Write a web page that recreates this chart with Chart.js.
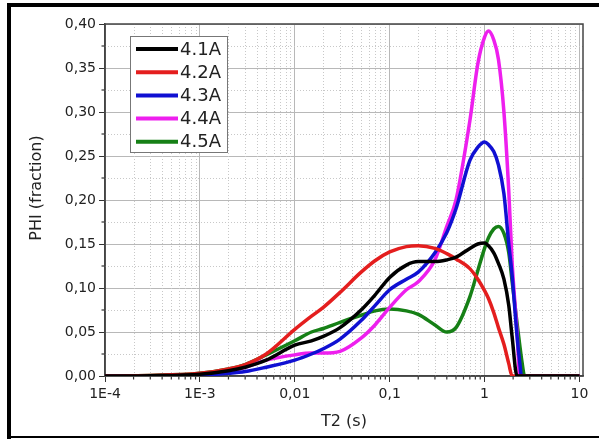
<!DOCTYPE html>
<html>
<head>
<meta charset="utf-8">
<script src="https://cdn.jsdelivr.net/npm/chart.js@4"></script>
<style>
  body { margin: 0; background: #fff; }
</style>
</head>
<body>
<canvas id="t2Chart" width="599" height="439"></canvas>
<script>
// T2 relaxation times (s), shared by every sample
const t2 = [0.0001, 0.0003, 0.001, 0.002, 0.003, 0.005, 0.01, 0.015, 0.02, 0.03, 0.05, 0.07,
  0.1, 0.15, 0.2, 0.3, 0.4, 0.5, 0.7, 0.85, 1, 1.1, 1.25, 1.4, 1.6, 1.8, 1.95, 2.2, 2.35, 2.45, 2.65, 10];

const s41A = [0, 0.0003, 0.002, 0.006, 0.01, 0.018, 0.035, 0.04, 0.045, 0.055, 0.075, 0.092,
  0.112, 0.126, 0.13, 0.13, 0.132, 0.135, 0.145, 0.15, 0.151, 0.148, 0.14, 0.128, 0.11, 0.08, 0.045, 0, 0, 0, 0, 0];
const s42A = [0, 0.0005, 0.003, 0.008, 0.013, 0.025, 0.053, 0.068, 0.078, 0.095, 0.118, 0.131,
  0.141, 0.147, 0.148, 0.145, 0.139, 0.133, 0.122, 0.11, 0.097, 0.088, 0.072, 0.055, 0.036, 0.014, 0, 0, 0, 0, 0, 0];
const s43A = [0, 0.0002, 0.001, 0.003, 0.005, 0.01, 0.018, 0.025, 0.031, 0.042, 0.063, 0.08,
  0.098, 0.11, 0.118, 0.14, 0.163, 0.19, 0.245, 0.26, 0.266, 0.263, 0.255, 0.24, 0.207, 0.15, 0.115, 0.045, 0.015, 0, 0, 0];
const s44A = [0, 0.0002, 0.001, 0.005, 0.01, 0.018, 0.024, 0.026, 0.026, 0.028, 0.043, 0.058,
  0.078, 0.098, 0.107, 0.132, 0.17, 0.2, 0.29, 0.355, 0.385, 0.392, 0.382, 0.36, 0.3, 0.21, 0.13, 0.05, 0, 0, 0, 0];
const s45A = [0, 0.0005, 0.003, 0.008, 0.013, 0.024, 0.04, 0.05, 0.054, 0.061, 0.069, 0.074,
  0.076, 0.074, 0.07, 0.058, 0.05, 0.055, 0.09, 0.12, 0.145, 0.157, 0.167, 0.17, 0.162, 0.14, 0.108, 0.06, 0.035, 0.02, 0, 0];

const sampleNames = ['4.1A', '4.2A', '4.3A', '4.4A', '4.5A'];
const sampleValues = [s41A, s42A, s43A, s44A, s45A];
const sampleColors = ['#000000', '#e41e1e', '#1010d2', '#ee1fee', '#168016'];

const xTickValues = [0.0001, 0.001, 0.01, 0.1, 1, 10];
const xTickLabels = ['1E-4', '1E-3', '0,01', '0,1', '1', '10'];
const yTitle = 'PHI (fraction)';

const FONT = 'DejaVu Sans';

const datasets = sampleNames.map((name, i) => ({
  label: name,
  data: t2.map((t, j) => ({ x: t, y: sampleValues[i][j] })),
  borderColor: sampleColors[i],
  backgroundColor: sampleColors[i],
  borderWidth: 3.5,
  pointRadius: 0,
  cubicInterpolationMode: 'monotone',
  fill: false
}));

function line(ctx, x1, y1, x2, y2) {
  ctx.beginPath();
  ctx.moveTo(x1, y1);
  ctx.lineTo(x2, y2);
  ctx.stroke();
}

const decorations = {
  id: 'decorations',
  beforeDraw(chart) {
    const ctx = chart.ctx;
    ctx.save();
    ctx.fillStyle = '#fff';
    ctx.fillRect(0, 0, chart.width, chart.height);
    // figure frame
    ctx.fillStyle = '#000';
    ctx.fillRect(7, 3, chart.width - 7, 4);
    ctx.fillRect(7, 3, 4, chart.height - 3);
    ctx.fillRect(7, chart.height - 3, chart.width - 7, 2);
    ctx.restore();
  },
  beforeDatasetsDraw(chart) {
    const { ctx, chartArea: a, scales: { x, y } } = chart;
    ctx.save();
    // minor dotted grid
    ctx.strokeStyle = '#c8c8c8';
    ctx.lineWidth = 1;
    ctx.setLineDash([1, 2]);
    for (let d = -4; d < 1; d++) {
      for (let m = 2; m <= 9; m++) {
        const px = Math.round(x.getPixelForValue(m * Math.pow(10, d))) + 0.5;
        line(ctx, px, a.top, px, a.bottom);
      }
    }
    for (let v = 0.025; v < 0.4; v += 0.05) {
      const py = Math.round(y.getPixelForValue(v)) + 0.5;
      line(ctx, a.left, py, a.right, py);
    }
    ctx.setLineDash([]);
    // minor ticks
    ctx.strokeStyle = '#333';
    ctx.lineWidth = 1.2;
    for (let d = -4; d < 1; d++) {
      for (let m = 2; m <= 9; m++) {
        const px = x.getPixelForValue(m * Math.pow(10, d));
        line(ctx, px, a.bottom, px, a.bottom + 3.5);
      }
    }
    for (let v = 0.025; v < 0.4; v += 0.05) {
      const py = y.getPixelForValue(v);
      line(ctx, a.left - 3.5, py, a.left, py);
    }
    // plot frame
    ctx.strokeStyle = '#444';
    ctx.lineWidth = 1.5;
    ctx.strokeRect(a.left, a.top, a.right - a.left, a.bottom - a.top);
    // y axis title, sits a little above the middle of the axis
    ctx.translate(37, a.top + (a.bottom - a.top) / 2 - 12);
    ctx.rotate(-Math.PI / 2);
    ctx.fillStyle = '#222';
    ctx.font = '16px "' + FONT + '"';
    ctx.textAlign = 'center';
    ctx.textBaseline = 'middle';
    ctx.fillText(yTitle, 0, 0);
    ctx.restore();
  },
  afterDraw(chart) {
    const ctx = chart.ctx;
    const box = { left: 130, top: 36, width: 97, height: 116 };
    ctx.save();
    ctx.fillStyle = '#fff';
    ctx.fillRect(box.left, box.top, box.width, box.height);
    ctx.strokeStyle = '#777';
    ctx.lineWidth = 1;
    ctx.strokeRect(box.left + 0.5, box.top + 0.5, box.width, box.height);
    ctx.font = '18px "' + FONT + '"';
    ctx.textBaseline = 'middle';
    chart.data.datasets.forEach((ds, i) => {
      const ry = box.top + 13 + i * 23.2;
      ctx.strokeStyle = ds.borderColor;
      ctx.lineWidth = 4;
      line(ctx, box.left + 6, ry, box.left + 48, ry);
      ctx.fillStyle = '#222';
      ctx.fillText(ds.label, box.left + 50, ry + 1);
    });
    ctx.restore();
  }
};

new Chart(document.getElementById('t2Chart'), {
  type: 'line',
  data: { datasets: datasets },
  options: {
    responsive: false,
    animation: false,
    layout: { padding: { left: 12, top: 24, right: 16, bottom: 5 } },
    plugins: { legend: { display: false }, tooltip: { enabled: false } },
    scales: {
      x: {
        type: 'logarithmic',
        min: 0.0001,
        max: 10.9,
        afterBuildTicks: (scale) => { scale.ticks = xTickValues.map(v => ({ value: v })); },
        afterFit: (scale) => { scale.height = 58; },
        ticks: {
          autoSkip: false,
          maxRotation: 0,
          padding: 4,
          color: '#222',
          font: { family: FONT, size: 14 },
          callback: (value) => {
            const k = xTickValues.findIndex(v => Math.abs(v - value) / v < 1e-6);
            return k >= 0 ? xTickLabels[k] : '';
          }
        },
        grid: { color: '#b8b8b8', lineWidth: 1, tickColor: '#333', tickLength: 6 },
        border: { color: '#444', width: 1.5 },
        title: {
          display: true, text: 'T2 (s)', color: '#222',
          font: { family: FONT, size: 16 }, padding: { top: 0, bottom: 3 }
        }
      },
      y: {
        min: 0,
        max: 0.4,
        afterFit: (scale) => { scale.width = 93; },
        ticks: {
          stepSize: 0.05,
          padding: 3,
          color: '#222',
          font: { family: FONT, size: 14 },
          callback: (value) => value.toFixed(2).replace('.', ',')
        },
        grid: { color: '#b8b8b8', lineWidth: 1, tickColor: '#333', tickLength: 6 },
        border: { color: '#444', width: 1.5 },
        title: { display: false }
      }
    }
  },
  plugins: [decorations]
});
</script>
</body>
</html>
